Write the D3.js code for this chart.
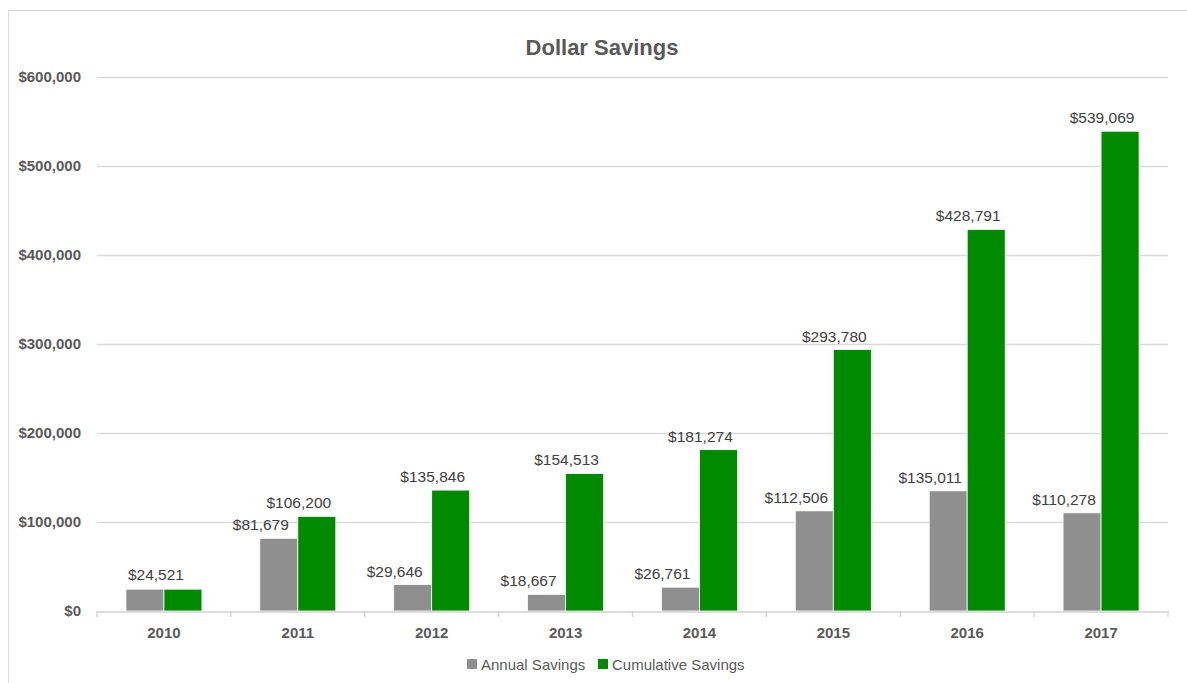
<!DOCTYPE html>
<html><head><meta charset="utf-8">
<script src="https://cdn.jsdelivr.net/npm/d3@7"></script>
<style>body{margin:0;background:#fff;}svg{display:block;font-family:"Liberation Sans",Arial,sans-serif;}</style>
</head><body><svg id="c" width="1187" height="683"></svg>
<script>
const categories = ["2010","2011","2012","2013","2014","2015","2016","2017"];
const annualSavings = [24521,81679,29646,18667,26761,112506,135011,110278];
const cumulativeSavings = [24521,106200,135846,154513,181274,293780,428791,539069];
const seriesNames = ["Annual Savings","Cumulative Savings"];
const yTicks = [0,100000,200000,300000,400000,500000,600000];
const colors = ["#8f8f8f","#008a00"];

const svg = d3.select("#c");
const margin = {left:97, right:1168, top:77, bottom:611};
svg.append("rect").attr("x",8.5).attr("y",10.5).attr("width",1200).attr("height",700)
  .attr("fill","#fff").attr("stroke","#d9d9d9").attr("stroke-width",1);

const x = d3.scaleBand().domain(categories).range([margin.left, margin.right]).padding(0);
const bw = x.bandwidth();
const xs = d3.scaleBand().domain(seriesNames).range([bw/2-38, bw/2+38]).padding(0);
const y = d3.scaleLinear().domain([0,600000]).range([margin.bottom, margin.top]);
const fmt = d3.format("$,.0f");

// gridlines
svg.append("g").selectAll("line").data(yTicks.filter(d=>d>0)).join("line")
  .attr("x1",margin.left).attr("x2",margin.right)
  .attr("y1",d=>Math.round(y(d))+0.5).attr("y2",d=>Math.round(y(d))+0.5)
  .attr("stroke","#d9d9d9").attr("stroke-width",1.3);

// y labels
const yAxis = d3.axisLeft(y).tickValues(yTicks).tickFormat(fmt).tickSize(0).tickPadding(16);
const gy = svg.append("g").attr("transform",`translate(${margin.left},0)`).call(yAxis);
gy.select(".domain").remove();
gy.selectAll("text").attr("font-size","15px").attr("font-weight","bold").attr("fill","#595959")
  .attr("font-family","'Liberation Sans',Arial,sans-serif");

// bars
const rows = categories.map((c,i)=>({cat:c, vals:[annualSavings[i], cumulativeSavings[i]]}));
const g = svg.append("g");
rows.forEach(r=>{
  r.vals.forEach((v,j)=>{
    g.append("rect").attr("x",x(r.cat)+xs(seriesNames[j])).attr("width",xs.bandwidth())
      .attr("y",y(v)).attr("height",y(0)-y(v)).attr("fill",colors[j])
      .attr("stroke","#ffffff").attr("stroke-width",0.8);
  });
});

// x axis
const xAxis = d3.axisBottom(x).tickSize(0).tickPadding(16);
const gx = svg.append("g").attr("transform",`translate(0,${Math.round(y(0))+0.5})`).call(xAxis);
gx.select(".domain").attr("stroke","#d0d0d0").attr("stroke-width",1.3);
gx.selectAll("text").attr("font-size","15px").attr("font-weight","bold").attr("fill","#595959")
  .attr("font-family","'Liberation Sans',Arial,sans-serif");
// boundary tick marks
svg.append("g").selectAll("line").data(d3.range(categories.length+1)).join("line")
  .attr("x1",i=>margin.left+i*bw).attr("x2",i=>margin.left+i*bw)
  .attr("y1",Math.round(y(0))).attr("y2",Math.round(y(0))+6)
  .attr("stroke","#d0d0d0").attr("stroke-width",1.3);

// data labels
const lab = svg.append("g").attr("font-size","15.5px").attr("fill","#404040").attr("text-anchor","middle");
rows.forEach(r=>{
  if (r.vals[0] === r.vals[1]) {
    lab.append("text").attr("x",x(r.cat)+bw/2-8).attr("y",y(r.vals[1])-9).text(fmt(r.vals[1]));
  } else {
    r.vals.forEach((v,j)=>{
      lab.append("text").attr("x",x(r.cat)+xs(seriesNames[j])+xs.bandwidth()/2-18)
        .attr("y",y(v)-8).text(fmt(v));
    });
  }
});

// title
svg.append("text").attr("x",602).attr("y",55).attr("text-anchor","middle")
  .attr("font-size","22px").attr("font-weight","bold").attr("fill","#595959").text("Dollar Savings");

// legend
const leg = svg.append("g").attr("font-size","15px").attr("fill","#595959");
const legX = [467, 598];
seriesNames.forEach((n,i)=>{
  leg.append("rect").attr("x",legX[i]).attr("y",659).attr("width",10).attr("height",10).attr("fill",colors[i]);
  leg.append("text").attr("x",legX[i]+14).attr("y",670).text(n);
});
</script></body></html>
